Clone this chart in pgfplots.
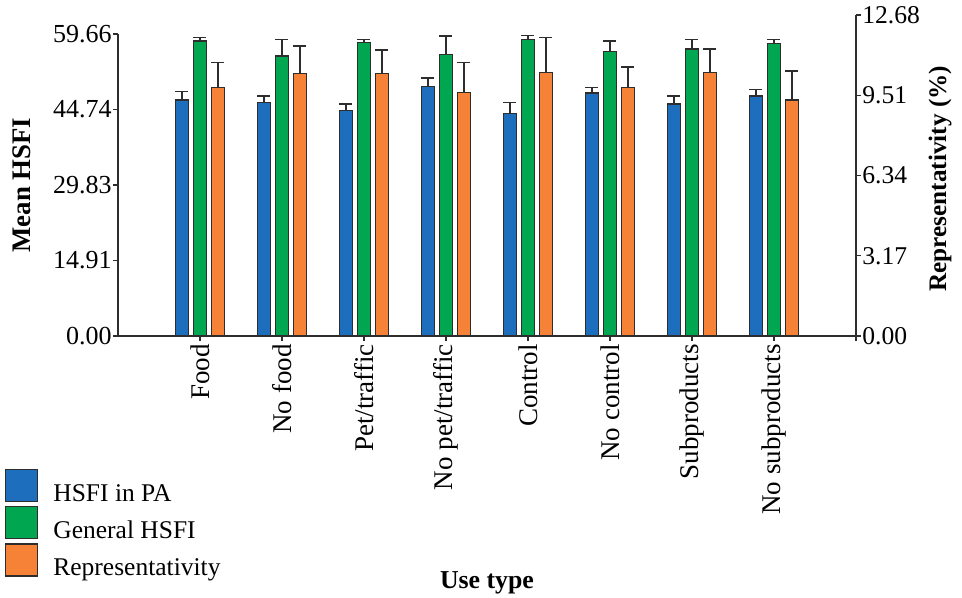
\documentclass[border=0pt]{standalone}
\usepackage{fontspec}
\setmainfont{Liberation Serif}
\usepackage{pgfplots}
\usepackage{pgfplotstable}
\pgfplotsset{compat=1.18}
\definecolor{cblue}{RGB}{30,110,190}
\definecolor{cgreen}{RGB}{0,166,80}
\definecolor{corange}{RGB}{245,130,55}
\definecolor{cline}{RGB}{45,45,45}
\pgfplotstableread{
x blue berr green gerr orange oerr
0 46.62 1.64 58.28 0.65 9.81 0.99
1 46.09 1.32 55.31 3.30 10.36 1.10
2 44.51 1.32 58.02 0.59 10.36 0.94
3 49.33 1.64 55.57 3.70 9.62 1.18
4 43.92 2.17 58.61 0.79 10.42 1.37
5 48.00 1.05 56.16 2.12 9.81 0.82
6 45.83 1.58 56.70 1.91 10.42 0.91
7 47.41 1.33 57.82 0.79 9.33 1.14
}\datatable
\pgfplotsset{
  sqlegend/.style={legend image code/.code={\draw[##1,line width=0.7pt] (0pt,-3.8pt) rectangle (16pt,12.2pt);}},
  barstyle/.style={draw=cline, line width=0.7pt},
  errstyle/.style={/pgfplots/error bars/.cd, y dir=plus, y explicit, error mark=-,
     error mark options={rotate=90, mark size=3.25pt, line width=0.75pt, draw=cline},
     error bar style={line width=0.75pt, draw=cline}, /pgfplots/.cd},
}
\begin{document}
\begin{tikzpicture}
\begin{axis}[
  scale only axis, width=369pt, height=151pt,
  xmin=-1, xmax=8, ymin=0, ymax=59.66,
  ybar, bar width=6.5pt, clip=false,
  axis x line*=bottom, axis y line*=left,
  axis line style={-, draw=cline, line width=0.7pt},
  tick style={draw=cline, line width=0.7pt},
  tick align=outside, major tick length=2.5pt,
  xtick={0,...,7},
  xticklabels={Food,No food,Pet/traffic,No pet/traffic,Control,No control,Subproducts,No subproducts},
  extra x ticks={8}, extra x tick labels={},
  xticklabel style={rotate=90, anchor=east, inner sep=1.5pt, font=\fontsize{13.5}{16}\selectfont},
  ytick={0,14.91,29.83,44.74,59.66},
  yticklabels={0.00,14.91,29.83,44.74,59.66},
  yticklabel style={inner sep=0.5pt, font=\fontsize{13}{15}\selectfont},
  /pgf/number format/assume math mode=true,
  xlabel={Use type},
  xlabel style={at={(axis description cs:0.5,0)}, anchor=center, yshift=-123.5pt, font=\fontsize{12.9}{15}\selectfont\bfseries},
  ylabel={Mean HSFI},
  ylabel style={at={(axis description cs:-0.130,0.5)}, anchor=center, font=\fontsize{13.4}{15}\selectfont\bfseries},
]
\addplot[barstyle, fill=cblue, bar shift=-9pt, errstyle] table[x=x, y=blue, y error=berr] {\datatable};
\addplot[barstyle, fill=cgreen, bar shift=0pt, errstyle] table[x=x, y=green, y error=gerr] {\datatable};
\end{axis}
\begin{axis}[
  scale only axis, width=369pt, height=160.5pt,
  xmin=-1, xmax=8, ymin=0, ymax=12.68,
  ybar, bar width=6.5pt, clip=false,
  axis x line=none, axis y line*=right,
  axis line style={-, draw=cline, line width=0.7pt},
  tick style={draw=cline, line width=0.7pt},
  tick align=outside, major tick length=2.5pt,
  ytick={0,3.17,6.34,9.51,12.68},
  yticklabels={0.00,3.17,6.34,9.51,12.68},
  yticklabel style={inner sep=0.5pt, font=\fontsize{12.8}{15}\selectfont},
  /pgf/number format/assume math mode=true,
  ylabel={Representativity (\%)},
  ylabel style={at={(axis description cs:1.114,0.49)}, anchor=center, rotate=0, font=\fontsize{12.6}{15}\selectfont\bfseries},
  legend style={at={(0,0)}, anchor=north west, xshift=-56.5pt, yshift=-66.5pt,
    draw=none, fill=none, inner sep=0pt, outer sep=0pt, row sep=1pt, column sep=7.5pt,
    font=\fontsize{12.75}{15}\selectfont, nodes={inner sep=0pt}},
  legend cell align=left,
]
\addlegendimage{barstyle, fill=cblue, sqlegend}
\addlegendentry{HSFI in PA}
\addlegendimage{barstyle, fill=cgreen, sqlegend}
\addlegendentry{General HSFI}
\addplot[barstyle, fill=corange, bar shift=9pt, sqlegend, errstyle] table[x=x, y=orange, y error=oerr] {\datatable};
\addlegendentry{Representativity}
\end{axis}
\pgfresetboundingbox
\path[use as bounding box] (-59pt,-131pt) rectangle (422pt,168pt);
\end{tikzpicture}
\end{document}
